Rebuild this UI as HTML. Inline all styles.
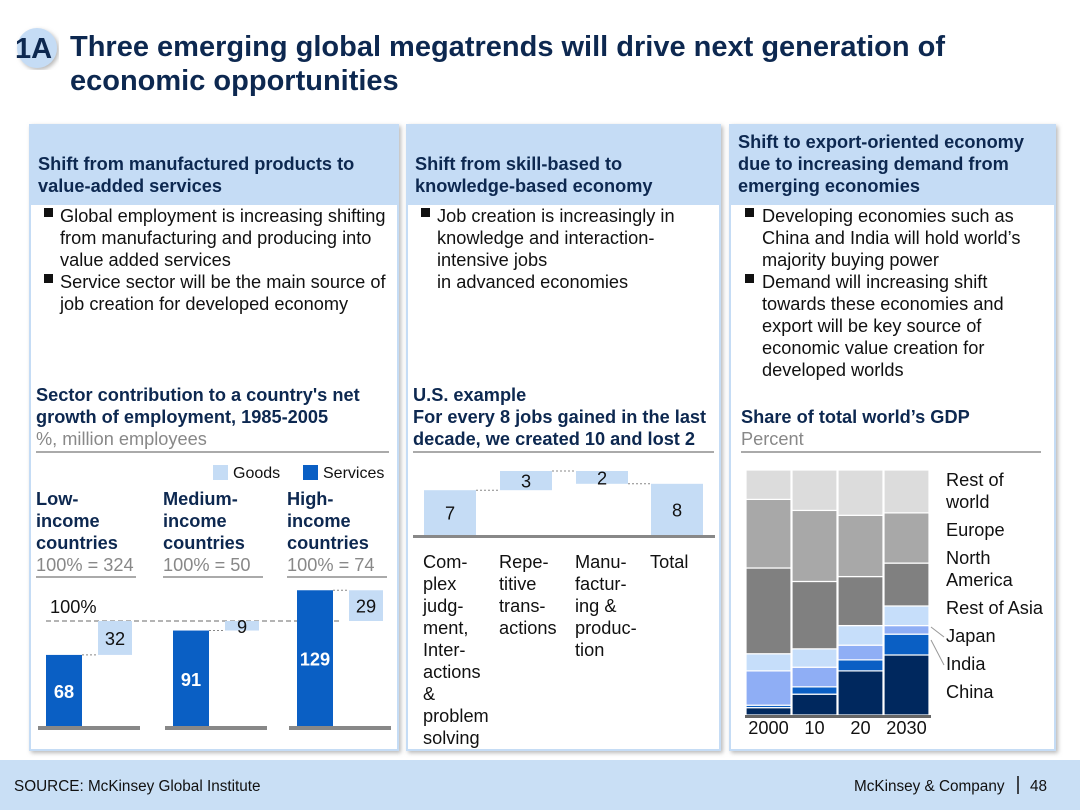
<!DOCTYPE html>
<html><head><meta charset="utf-8"><style>
html,body{margin:0;padding:0;background:#fff;}
svg{display:block;font-family:"Liberation Sans",Arial,sans-serif;}
</style></head><body>
<svg id="s" width="1080" height="810" viewBox="0 0 1080 810" xmlns="http://www.w3.org/2000/svg">
<defs><filter id="sh" x="-5%" y="-5%" width="110%" height="110%"><feDropShadow dx="2" dy="2" stdDeviation="2" flood-color="#888" flood-opacity="0.6"/></filter></defs>
<g>
<circle cx="37" cy="48" r="20" fill="#c5dcf5" filter="url(#sh)"/>
<text x="15" y="58" font-size="29" font-weight="bold" fill="#0d2850">1A</text></g>
<text font-size="29" font-weight="bold" fill="#0d2850"><tspan x="70" y="56">Three emerging global megatrends will drive next generation of</tspan><tspan x="70" y="90">economic opportunities</tspan></text>
<g><rect x="30" y="125" width="368" height="625" fill="#fff" stroke="#c5dcf5" stroke-width="2" filter="url(#sh)"/><rect x="30" y="125" width="368" height="80" fill="#c5dcf5"/></g>
<g><rect x="407" y="125" width="313" height="625" fill="#fff" stroke="#c5dcf5" stroke-width="2" filter="url(#sh)"/><rect x="407" y="125" width="313" height="80" fill="#c5dcf5"/></g>
<g><rect x="730" y="125" width="325" height="625" fill="#fff" stroke="#c5dcf5" stroke-width="2" filter="url(#sh)"/><rect x="730" y="125" width="325" height="80" fill="#c5dcf5"/></g>
<g font-size="18.2" font-weight="bold" fill="#0d2850">
<text><tspan x="38" y="170">Shift from manufactured products to</tspan><tspan x="38" y="192">value-added services</tspan></text>
<text><tspan x="415" y="170">Shift from skill-based to</tspan><tspan x="415" y="192">knowledge-based economy</tspan></text>
<text><tspan x="738" y="148">Shift to export-oriented economy</tspan><tspan x="738" y="170">due to increasing demand from</tspan><tspan x="738" y="192">emerging economies</tspan></text>
</g>
<g font-size="18.2" fill="#111">
<g>
<rect x="44" y="208" width="9" height="9" fill="#111"/><rect x="44" y="274" width="9" height="9" fill="#111"/>
<text><tspan x="60" y="222">Global employment is increasing shifting</tspan><tspan x="60" y="244">from manufacturing and producing into</tspan><tspan x="60" y="266">value added services</tspan><tspan x="60" y="288">Service sector will be the main source of</tspan><tspan x="60" y="310">job creation for developed economy</tspan></text></g>
<g>
<rect x="421" y="208" width="9" height="9" fill="#111"/>
<text><tspan x="437" y="222">Job creation is increasingly in</tspan><tspan x="437" y="244">knowledge and interaction-</tspan><tspan x="437" y="266">intensive jobs</tspan><tspan x="437" y="288">in advanced economies</tspan></text></g>
<g>
<rect x="745" y="208" width="9" height="9" fill="#111"/><rect x="745" y="274" width="9" height="9" fill="#111"/>
<text><tspan x="762" y="222">Developing economies such as</tspan><tspan x="762" y="244">China and India will hold world’s</tspan><tspan x="762" y="266">majority buying power</tspan><tspan x="762" y="288">Demand will increasing shift</tspan><tspan x="762" y="310">towards these economies and</tspan><tspan x="762" y="332">export will be key source of</tspan><tspan x="762" y="354">economic value creation for</tspan><tspan x="762" y="376">developed worlds</tspan></text></g>
</g>
<g font-size="18.2">
<text font-weight="bold" fill="#0d2850"><tspan x="36" y="401">Sector contribution to a country's net</tspan><tspan x="36" y="423">growth of employment, 1985-2005</tspan></text>
<text x="36" y="445" fill="#888">%, million employees</text>
<text font-weight="bold" fill="#0d2850"><tspan x="413" y="401">U.S. example</tspan><tspan x="413" y="423">For every 8 jobs gained in the last</tspan><tspan x="413" y="445">decade, we created 10 and lost 2</tspan></text>
<text font-weight="bold" fill="#0d2850" x="741" y="423">Share of total world’s GDP</text>
<text x="741" y="445" fill="#888">Percent</text>
</g>
<line x1="36" y1="452" x2="389" y2="452" stroke="#555" stroke-width="1"/>
<line x1="413" y1="452" x2="714" y2="452" stroke="#555" stroke-width="1"/>
<line x1="741" y1="452" x2="1041" y2="452" stroke="#555" stroke-width="1"/>
<g><rect x="213" y="465" width="15" height="15" fill="#c5dcf5"/><text x="233" y="478" font-size="16" fill="#111">Goods</text></g>
<g><rect x="303" y="465" width="15" height="15" fill="#0a5fc4"/><text x="323" y="478" font-size="16" fill="#111">Services</text></g>
<g id="c1"></g><g id="c2"></g><g id="c3"></g>
<rect x="0" y="760" width="1080" height="50" fill="#c9dff5"/>
<text x="14" y="791" font-size="15.3" fill="#111">SOURCE: McKinsey Global Institute</text>
<text x="854" y="791" font-size="15.3" fill="#111">McKinsey &amp; Company</text>
<line x1="1018" y1="776" x2="1018" y2="794" stroke="#111" stroke-width="1.5"/>
<text x="1030" y="791" font-size="15.3" fill="#111">48</text>
</svg>
<script>
// Chart 1 data
const c1Groups=["Low-","Medium-","High-"];
const c1Totals=["100% = 324","100% = 50","100% = 74"];
const c1Services=[68,91,129];
const c1Goods=[32,9,-29];
// Chart 2 data
const c2Cats=[["Com-","plex","judg-","ment,","Inter-","actions","&","problem","solving"],["Repe-","titive","trans-","actions"],["Manu-","factur-","ing &","produc-","tion"],["Total"]];
const c2Values=[7,3,-2,8];
// Chart 3 data
const c3Years=["2000","10","20","2030"];
const c3Regions=["China","India","Japan","Rest of Asia","North America","Europe","Rest of world"];
const c3China=[3,8.5,18,24.5];
const c3India=[1,3,4.5,8.5];
const c3Japan=[14,8,6,3.5];
const c3RestAsia=[7,7.5,8,8];
const c3NorthAmerica=[35,27.5,20,17.5];
const c3Europe=[28,29,25,20.5];
const c3RestWorld=[12,16.5,18.5,17.5];

const NS="http://www.w3.org/2000/svg";
const FS=18.2;
function mk(parent,tag,attrs,txt){const e=document.createElementNS(NS,tag);for(const k in attrs)e.setAttribute(k,attrs[k]);if(txt!==undefined)e.textContent=txt;parent.appendChild(e);return e;}

(function(){
 const g=document.getElementById('c1');
 const base=727, k=1.06;
 const y=v=>base-v*k;
 const x0=[38,165,289];
 const hundredY=y(100);
 const dl=mk(g,'line',{x1:46,y1:hundredY,x2:340,y2:hundredY,stroke:'#888','stroke-dasharray':'5,3','stroke-width':1.2});
 
 
 const hl=mk(g,'text',{x:50,y:hundredY-8,'font-size':FS,fill:'#111'},'100%');
 
 
 c1Groups.forEach((name,i)=>{
  const gx=x0[i];
  const lbl=mk(g,'text',{'font-size':FS,'font-weight':'bold',fill:'#0d2850'});
  
  
  [name,'income','countries'].forEach((t,j)=>mk(lbl,'tspan',{x:gx-2,y:505+j*22},t));
  const tl=mk(g,'text',{x:gx-2,y:571,'font-size':FS,fill:'#888'},c1Totals[i]);
  
  
  mk(g,'line',{x1:gx-2,y1:577,x2:gx+98,y2:577,stroke:'#555'});
  const bx=gx+8, bw=36;
  const s=c1Services[i];
  const b=mk(g,'rect',{x:bx,y:y(s),width:bw,height:base-y(s),fill:'#0a5fc4'});
  
  
  const bt=mk(g,'text',{x:bx+bw/2,y:(y(s)+base)/2+7,'font-size':FS,'font-weight':'bold',fill:'#fff','text-anchor':'middle'},s);
  
  
  const gv=c1Goods[i], top=Math.min(y(s),y(s+gv)), bot=Math.max(y(s),y(s+gv));
  const gxx=bx+52, gw=34;
  const gr=mk(g,'rect',{x:gxx,y:top,width:gw,height:bot-top,fill:'#c5dcf5'});
  
  
  mk(g,'line',{x1:bx+bw,y1:y(s),x2:gxx,y2:y(s),stroke:'#888','stroke-dasharray':'2,2'});
  const gt=mk(g,'text',{x:gxx+gw/2,y:(top+bot)/2+7,'font-size':FS,fill:'#111','text-anchor':'middle'},Math.abs(gv));
  
  
  const bl=mk(g,'rect',{x:gx,y:base-1,width:102,height:4,fill:'#888'});
  
  
 });
})();

(function(){
 const g=document.getElementById('c2');
 const base=535,k=6.4,y=v=>base-v*k;
 const xs=[424,500,576,651],w=52;
 let cum=0;
 c2Values.forEach((v,i)=>{
  let top,bot;
  if(i===c2Values.length-1){top=y(v);bot=base;}
  else if(i===0){top=y(v);bot=base;cum=v;}
  else{const n=cum+v;top=Math.min(y(cum),y(n));bot=Math.max(y(cum),y(n));
   mk(g,'line',{x1:xs[i-1]+w,y1:y(cum),x2:xs[i],y2:y(cum),stroke:'#888','stroke-dasharray':'2,2'});cum=n;}
  if(i===c2Values.length-1) mk(g,'line',{x1:xs[i-1]+w,y1:y(cum),x2:xs[i],y2:y(cum),stroke:'#888','stroke-dasharray':'2,2'});
  const r=mk(g,'rect',{x:xs[i],y:top,width:w,height:bot-top,fill:'#c5dcf5'});
  
  
  const t=mk(g,'text',{x:xs[i]+w/2,y:(top+bot)/2+7,'font-size':FS,fill:'#111','text-anchor':'middle'},Math.abs(v));
  
  
  const lbl=mk(g,'text',{'font-size':FS,fill:'#111'});
  
  
  c2Cats[i].forEach((s,j)=>mk(lbl,'tspan',{x:xs[i]-1,y:568+j*22},s));
 });
 const bl=mk(g,'rect',{x:413,y:base,width:302,height:3,fill:'#888'});
 
 
})();

(function(){
 const g=document.getElementById('c3');
 const series=[c3China,c3India,c3Japan,c3RestAsia,c3NorthAmerica,c3Europe,c3RestWorld];
 const colors=['#00285e','#0a5fc4','#8faef5','#c6defa','#808080','#a8a8a8','#dcdcdc'];
 const base=715,H=245,y=v=>base-v/100*H;
 const xs=[746,792,838,884],w=45;
 c3Years.forEach((yr,i)=>{
  let cum=0;
  series.forEach((s,j)=>{
   const r=mk(g,'rect',{x:xs[i],y:y(cum+s[i]),width:w,height:y(cum)-y(cum+s[i]),fill:colors[j],stroke:'#fff','stroke-width':1.2});
   
   
   cum+=s[i];
  });
  const t=mk(g,'text',{x:xs[i]+w/2,y:734,'font-size':FS,fill:'#111','text-anchor':'middle'},yr);
  
  
 });
 const bl=mk(g,'rect',{x:745,y:base,width:186,height:3,fill:'#666'});
 
 
 const legend=[["China",[698]],["India",[670]],["Japan",[642]],["Rest of Asia",[614]],["North","America",[564,586]],["Europe",[536]],["Rest of","world",[486,508]]];
 legend.forEach((l,j)=>{
  const ys=l[l.length-1];
  const t=mk(g,'text',{'font-size':FS,fill:'#111'});
  
  
  ys.forEach((yy,q)=>mk(t,'tspan',{x:946,y:yy},l[q]));
 });
 mk(g,'line',{x1:931,y1:627,x2:944,y2:637,stroke:'#999'});
 mk(g,'line',{x1:931,y1:640,x2:944,y2:665,stroke:'#999'});
})();
</script>
</body></html>
